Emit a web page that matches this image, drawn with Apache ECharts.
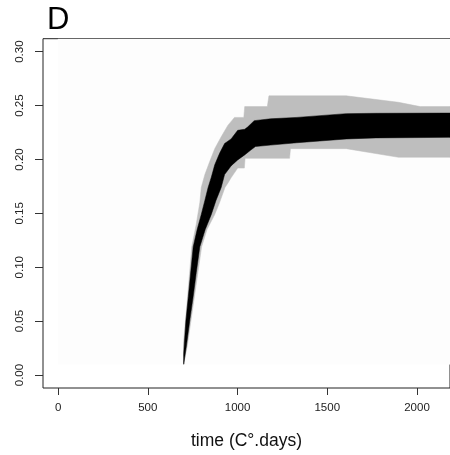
<!DOCTYPE html>
<html>
<head>
<meta charset="utf-8">
<script src="https://cdn.jsdelivr.net/npm/echarts@6/dist/echarts.min.js"></script>
<style>html,body{margin:0;padding:0;background:#fff}#c{width:450px;height:455px}</style>
</head>
<body>
<div id="c"></div>
<script>
// ---- data ----
const xTicks = [0, 500, 1000, 1500, 2000];
const yTicks = [0, 0.05, 0.10, 0.15, 0.20, 0.25, 0.30];

const bgX = [0, 2184];
const bgY = [0.01, 0.312];

const blackUpperX = [700, 700, 712, 726, 740, 753, 775, 798, 818, 836, 853, 873, 900, 928, 964, 1001, 1040, 1056, 1093, 1184, 1331, 1606, 1771, 2184];
const blackUpperY = [0.010, 0.020, 0.050, 0.073, 0.097, 0.119, 0.135, 0.149, 0.162, 0.174, 0.183, 0.195, 0.2057, 0.2148, 0.219, 0.227, 0.228, 0.230, 0.236, 0.2377, 0.239, 0.2425, 0.2428, 0.243];

const blackLowerX = [700, 715, 735, 753, 770, 790, 820, 854, 880, 909, 928, 964, 1001, 1038, 1074, 1100, 1184, 1331, 1606, 1771, 2184];
const blackLowerY = [0.010, 0.027, 0.052, 0.073, 0.095, 0.119, 0.135, 0.149, 0.162, 0.174, 0.186, 0.194, 0.1996, 0.204, 0.2087, 0.212, 0.2133, 0.2155, 0.219, 0.220, 0.2205];

const grayUpperX = [700, 699, 722, 745, 770, 790, 798, 818, 845, 873, 909, 946, 983, 1035, 1040, 1166, 1175, 1606, 1897, 2018, 2184];
const grayUpperY = [0.010, 0.030, 0.073, 0.119, 0.140, 0.160, 0.174, 0.186, 0.198, 0.210, 0.221, 0.2316, 0.239, 0.239, 0.249, 0.249, 0.259, 0.259, 0.253, 0.249, 0.249];

const grayLowerX = [700, 720, 760, 800, 830, 873, 900, 930, 946, 964, 1001, 1038, 1042, 1290, 1295, 1606, 1897, 2184];
const grayLowerY = [0.010, 0.027, 0.073, 0.119, 0.135, 0.149, 0.160, 0.174, 0.178, 0.183, 0.192, 0.192, 0.201, 0.201, 0.2100, 0.2100, 0.202, 0.202];

// ---- chart ----
const FONT = '"Liberation Sans", Arial, Helvetica, sans-serif';

function bandSeries(ux, uy, lx, ly, color) {
  return {
    type: 'custom',
    coordinateSystem: 'cartesian2d',
    clip: true,
    silent: true,
    data: [[ux[0], uy[0]]],
    encode: { x: 0, y: 1 },
    renderItem: function (params, api) {
      const pts = [];
      for (let i = 0; i < ux.length; i++) pts.push(api.coord([ux[i], uy[i]]));
      for (let i = lx.length - 1; i >= 0; i--) pts.push(api.coord([lx[i], ly[i]]));
      return { type: 'polygon', shape: { points: pts }, style: { fill: color, stroke: color, lineWidth: 0.5 } };
    }
  };
}

const chart = echarts.init(document.getElementById('c'), null, { renderer: 'canvas' });
chart.setOption({
  animation: false,
  backgroundColor: '#ffffff',
  title: {
    text: 'D', left: 42, top: 0,
    textStyle: { fontFamily: FONT, fontSize: 31, fontWeight: 'normal', color: '#000' }
  },
  grid: {
    left: 43, top: 38.7, right: -5, bottom: 61.9,
    show: true, borderColor: '#222', borderWidth: 1, backgroundColor: 'transparent'
  },
  xAxis: {
    type: 'value', min: -84, max: 2184,
    name: 'time (C°.days)', nameLocation: 'middle', nameGap: 44,
    nameTextStyle: { fontFamily: FONT, fontSize: 17.5, color: '#111' },
    axisLine: { show: false, onZero: false },
    axisTick: { show: true, inside: false, length: 7, customValues: xTicks, lineStyle: { color: '#333' } },
    axisLabel: { customValues: xTicks, margin: 14, fontFamily: FONT, fontSize: 11.5, color: '#222',
      formatter: v => String(v) },
    splitLine: { show: false }
  },
  yAxis: {
    type: 'value', min: -0.012, max: 0.312,
    axisLine: { show: false, onZero: false },
    axisTick: { show: true, inside: false, length: 8, customValues: yTicks, lineStyle: { color: '#333' } },
    axisLabel: {
      customValues: yTicks, rotate: 90, margin: 17, fontFamily: FONT, fontSize: 11.5, color: '#222',
      formatter: v => v.toFixed(2)
    },
    splitLine: { show: false }
  },
  series: [
    bandSeries([bgX[0], bgX[1]], [bgY[1], bgY[1]], [bgX[0], bgX[1]], [bgY[0], bgY[0]], '#fdfdfd'),
    bandSeries(grayUpperX, grayUpperY, grayLowerX, grayLowerY, '#bebebe'),
    bandSeries(blackUpperX, blackUpperY, blackLowerX, blackLowerY, '#000000')
  ]
});
</script>
</body>
</html>
